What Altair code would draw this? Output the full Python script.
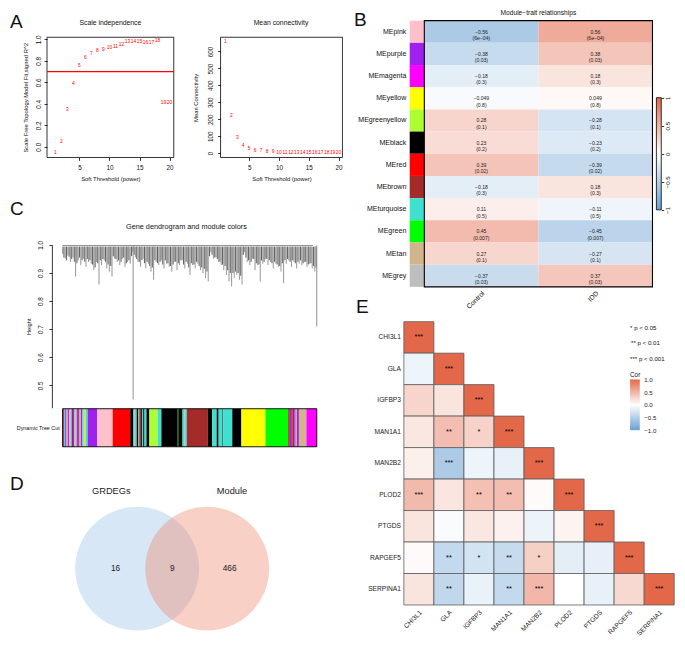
import math
import altair as alt
import pandas as pd

K = 0.975
W, H = 669, 632
FONT = "Liberation Sans"


def S(v):
    return round(v * K, 2)


# ---------------- data ----------------
powers = [1, 2, 3, 4, 5, 6, 7, 8, 9, 10, 11, 12, 13, 14, 15, 16, 17, 18, 19, 20]
sft_r2 = [-0.06, 0.04, 0.34, 0.58, 0.75, 0.83, 0.86, 0.89, 0.905, 0.92,
          0.93, 0.95, 0.975, 0.975, 0.978, 0.969, 0.969, 0.981, 0.41, 0.41]
mean_k = [658, 217, 89, 43, 22, 14, 9.5, 6.5, 4.5, 3.3,
          2.5, 2.0, 1.6, 1.3, 1.1, 0.9, 0.8, 0.7, 0.6, 0.5]
r2_cutoff = 0.70

modules = ["MEpink", "MEpurple", "MEmagenta", "MEyellow", "MEgreenyellow", "MEblack",
           "MEred", "MEbrown", "MEturquoise", "MEgreen", "MEtan", "MEgrey"]
module_colors = ["pink", "purple", "magenta", "yellow", "greenyellow", "black",
                 "red", "brown", "turquoise", "green", "tan", "grey"]
traits = ["Control", "IDD"]
cor_control = [-0.56, -0.38, -0.18, -0.049, 0.28, 0.23, 0.39, -0.18, 0.11, 0.45, 0.27, -0.37]
cor_idd = [0.56, 0.38, 0.18, 0.049, -0.28, -0.23, -0.39, 0.18, -0.11, -0.45, -0.27, 0.37]
p_values = ["6e−04", "0.03", "0.3", "0.8", "0.1", "0.2", "0.02", "0.3", "0.5", "0.007", "0.1", "0.03"]
trait_colorbar_ticks = [-1, -0.5, 0, 0.5, 1]

# dendrogram: deep leaves (order position, lowest merge height)
dendro_pos = [0, 8, 16, 24, 32, 40, 48, 56, 64, 72, 80, 88, 96, 104, 112, 120, 128, 136, 144, 152,
              160, 168, 176, 184, 192, 200, 208, 216, 224, 232, 240, 248, 256, 264, 272, 280, 288,
              296, 304, 312, 320, 328, 336, 344, 352, 360, 368, 376, 384, 392, 400, 408, 416, 424,
              432, 440, 448, 456, 464, 472, 480, 488, 496, 504, 512, 520, 528, 536, 544, 552, 560,
              568, 576, 584, 592, 600, 608, 616, 624, 632, 640, 648, 656, 664, 672, 680, 688, 696,
              704, 712, 720, 728, 736, 744, 752, 760, 768, 776]
dendro_low = [0.968, 0.951, 0.962, 0.939, 0.956, 0.887, 0.945, 0.928, 0.951, 0.922, 0.939, 0.933,
              0.910, 0.939, 0.859, 0.928, 0.945, 0.916, 0.905, 0.887, 0.951, 0.939, 0.928, 0.951,
              0.922, 0.939, 0.933, 0.974, 0.956, 0.939, 0.922, 0.951, 0.916, 0.933, 0.905, 0.876,
              0.939, 0.928, 0.945, 0.916, 0.933, 0.922, 0.905, 0.939, 0.910, 0.928, 0.945, 0.916,
              0.933, 0.893, 0.928, 0.916, 0.933, 0.910, 0.899, 0.882, 0.870, 0.974, 0.951, 0.956,
              0.939, 0.928, 0.910, 0.893, 0.870, 0.853, 0.882, 0.893, 0.876, 0.859, 0.974, 0.939,
              0.928, 0.951, 0.910, 0.928, 0.870, 0.933, 0.951, 0.928, 0.939, 0.916, 0.933, 0.922,
              0.905, 0.864, 0.933, 0.945, 0.922, 0.939, 0.916, 0.933, 0.928, 0.939, 0.922, 0.933,
              0.916, 0.905]
# dense upper mass of the dendrogram (leaves in between, lower edge of the dark band)
dense_pos = [4, 12, 20, 28, 36, 44, 52, 60, 68, 76, 84, 92, 100, 108, 116, 124, 132, 140, 148, 156,
             164, 172, 180, 188, 196, 204, 212, 220, 228, 236, 244, 252, 260, 268, 276, 284, 292,
             300, 308, 316, 324, 332, 340, 348, 356, 364, 372, 380, 388, 396, 404, 412, 420, 428,
             436, 444, 452, 460, 468, 476, 484, 492, 500, 508, 516, 524, 532, 540, 548, 556, 564,
             572, 580, 588, 596, 604, 612, 620, 628, 636, 644, 652, 660, 668, 676, 684, 692, 700,
             708, 716, 724, 732, 740, 748, 756, 764, 772, 780]
dense_low = [0.955, 0.945, 0.958, 0.95, 0.94, 0.935, 0.955, 0.945, 0.94, 0.95, 0.945, 0.93, 0.92,
             0.935, 0.945, 0.95, 0.94, 0.93, 0.925, 0.96,
             0.95, 0.945, 0.94, 0.955, 0.935, 0.945, 0.96,
             0.965, 0.95, 0.94, 0.945, 0.935, 0.94, 0.925, 0.92, 0.945, 0.935, 0.94, 0.93, 0.945,
             0.935, 0.925, 0.93, 0.94, 0.935, 0.945, 0.93, 0.94, 0.92, 0.935, 0.93, 0.94, 0.925,
             0.92, 0.915, 0.905, 0.96,
             0.965, 0.955, 0.95, 0.94, 0.93, 0.925, 0.91, 0.9, 0.9, 0.905, 0.9, 0.89, 0.965,
             0.955, 0.945, 0.94, 0.95, 0.935, 0.93, 0.945, 0.94, 0.95, 0.945, 0.935, 0.94, 0.93,
             0.925, 0.935, 0.945, 0.95, 0.94, 0.945, 0.935, 0.94, 0.945, 0.935, 0.94, 0.93, 0.935,
             0.925, 0.92]
dendro_top = 0.994
branch_pos = [217, 782]
branch_low = [0.45, 0.709]
n_order = 782

tree_cut_segments = [
    (0, 4, "brown"), (4, 8, "turquoise"), (8, 12, "purple"), (12, 16, "tan"), (16, 20, "magenta"),
    (20, 24, "grey"), (24, 28, "turquoise"), (28, 32, "brown"), (32, 36, "purple"), (36, 40, "tan"),
    (40, 44, "turquoise"), (44, 48, "magenta"), (48, 52, "brown"), (52, 56, "grey"), (56, 60, "purple"),
    (60, 64, "turquoise"), (64, 68, "tan"), (68, 72, "greenyellow"), (72, 77, "turquoise"),
    (77, 107, "purple"), (107, 154, "pink"), (154, 208, "red"), (208, 218, "black"), (218, 222, "grey"),
    (222, 228, "turquoise"), (228, 233, "black"), (233, 236, "turquoise"), (236, 240, "red"),
    (240, 244, "black"), (244, 248, "turquoise"), (248, 252, "black"), (252, 258, "turquoise"),
    (258, 267, "black"), (267, 292, "greenyellow"), (292, 304, "turquoise"), (304, 354, "black"),
    (354, 358, "darkgreen"), (358, 369, "black"), (369, 374, "turquoise"), (374, 377, "grey"),
    (377, 382, "turquoise"), (382, 447, "brown"), (447, 460, "black"), (460, 474, "turquoise"),
    (474, 480, "black"), (480, 492, "turquoise"), (492, 494, "black"), (494, 522, "turquoise"),
    (522, 550, "black"), (550, 624, "yellow"), (624, 694, "green"), (694, 699, "brown"),
    (699, 703, "purple"), (703, 708, "maroon"), (708, 713, "brown"), (713, 717, "purple"),
    (717, 721, "tan"), (721, 727, "purple"), (727, 750, "tan"), (750, 782, "magenta"),
]

venn_sets = ["GRDEGs", "Module"]
venn_counts = [16, 9, 466]  # GRDEGs only, both, Module only

genes = ["CHI3L1", "GLA", "IGFBP3", "MAN1A1", "MAN2B2", "PLOD2", "PTGDS", "RAPGEF5", "SERPINA1"]
cor_rows = [
    [1.0],
    [-0.12, 1.0],
    [0.28, 0.18, 1.0],
    [0.16, 0.43, 0.30, 1.0],
    [0.10, -0.55, -0.12, -0.15, 1.0],
    [0.46, 0.17, 0.42, 0.43, 0.03, 1.0],
    [0.18, -0.04, 0.16, 0.09, -0.13, 0.08, 1.0],
    [0.03, -0.40, -0.30, -0.38, 0.32, -0.18, -0.16, 1.0],
    [0.18, -0.42, -0.14, -0.40, 0.48, 0.0, -0.15, 0.25, 1.0],
]
star_rows = [
    ["***"],
    ["", "***"],
    ["", "", "***"],
    ["", "**", "*", "***"],
    ["", "***", "", "", "***"],
    ["***", "", "**", "**", "", "***"],
    ["", "", "", "", "", "", "***"],
    ["", "**", "*", "**", "*", "", "", "***"],
    ["", "**", "", "**", "***", "", "", "", "***"],
]
cor_legend_ticks = [-1.0, -0.5, 0.0, 0.5, 1.0]
sig_legend = ["* p < 0.05", "** p < 0.01", "*** p < 0.001"]

# ---------------- styles ----------------
R_COLORS = {"pink": "#FFC0CB", "purple": "#A020F0", "magenta": "#FF00FF", "yellow": "#FFFF00",
            "greenyellow": "#ADFF2F", "black": "#000000", "red": "#FF0000", "brown": "#A52A2A",
            "turquoise": "#40E0D0", "green": "#00FF00", "tan": "#D2B48C", "grey": "#BEBEBE",
            "darkgreen": "#006400", "maroon": "#B03060"}
COR_RANGE = ["#6AA0D2", "#FFFFFF", "#E3684A"]


def cor_scale():
    return alt.Scale(domain=[-1, 0, 1], range=COR_RANGE, interpolate="rgb")


def lin(domain, rng):
    return alt.Scale(domain=domain, range=rng, zero=False, nice=False)


def band(domain, rng):
    return alt.Scale(domain=domain, range=rng, paddingInner=0, paddingOuter=0)


BASE_AX = dict(grid=False, labelFont=FONT, titleFont=FONT, labelColor="#111111", titleColor="#111111",
               titleFontWeight="normal", labelFontWeight="normal", labelOverlap=False, labelFlush=False)
R_TICKS = dict(domain=False, ticks=True, tickSize=S(3), tickWidth=0.8, tickColor="black",
               labelFontSize=S(6.5), titleFontSize=S(6))


def axis(orient, at, **kw):
    if orient == "bottom":
        off = S(at) - H
    elif orient in ("top", "left"):
        off = -S(at)
    else:
        off = S(at) - W
    opts = dict(BASE_AX)
    opts.update(kw)
    return alt.Axis(orient=orient, offset=off, **opts)


def grad():
    return alt.LinearGradient(
        gradient="linear",
        stops=[alt.GradientStop(color=COR_RANGE[0], offset=0),
               alt.GradientStop(color=COR_RANGE[1], offset=0.5),
               alt.GradientStop(color=COR_RANGE[2], offset=1)],
        x1=0, x2=0, y1=1, y2=0)


def frame_df(xd, yd):
    return pd.DataFrame({"x0": [xd[0]], "x1": [xd[1]], "y0": [yd[0]], "y1": [yd[1]]})


def frame(xd, yd, xr, yr, width=0.8):
    return alt.Chart(frame_df(xd, yd)).mark_rect(fillOpacity=0, stroke="black", strokeWidth=width).encode(
        x=alt.X("x0:Q", scale=lin(xd, xr), axis=None), x2="x1",
        y=alt.Y("y0:Q", scale=lin(yd, yr), axis=None), y2="y1")


def note(text, x, y, size, align="center", baseline="middle", color="#111111"):
    return alt.Chart(pd.DataFrame({"t": [text]})).mark_text(
        font=FONT, fontSize=S(size), align=align, baseline=baseline, color=color
    ).encode(text="t:N", x=alt.value(S(x)), y=alt.value(S(y)))


layers = []

# ---------------- A ----------------
df_a = pd.DataFrame({"power": powers, "r2": sft_r2, "k": mean_k})
A1_XD, A1_XR = [-0.4, 20.7], [S(40), S(170)]
A2_XD, A2_XR = [0.2, 20.65], [S(218), S(343)]
A_YR = [S(153.3), S(30)]
A1_YD = [-0.10, 1.02]
A2_YD = [-26, 684]

a1_pts = alt.Chart(df_a).mark_text(color="red", font=FONT, fontSize=S(5)).encode(
    x=alt.X("power:Q", scale=lin(A1_XD, A1_XR),
            axis=axis("bottom", 153.3, values=[5, 10, 15, 20], title="Soft Threshold (power)",
                      labelPadding=S(4.5), titlePadding=S(4), **R_TICKS)),
    y=alt.Y("r2:Q", scale=lin(A1_YD, A_YR),
            axis=axis("left", 40, values=[0, 0.2, 0.4, 0.6, 0.8, 1.0], format=".1f", labelAngle=-90,
                      labelAlign="center", labelBaseline="bottom", labelPadding=S(3),
                      title="Scale Free Topology Model Fit,signed R^2", titlePadding=S(7), **R_TICKS)),
    text="power:Q")
a1_cut = alt.Chart(pd.DataFrame({"x0": [A1_XD[0]], "x1": [A1_XD[1]], "y": [r2_cutoff]})).mark_rule(
    color="red", strokeWidth=S(1.2)).encode(
    x=alt.X("x0:Q", scale=lin(A1_XD, A1_XR), axis=None), x2="x1",
    y=alt.Y("y:Q", scale=lin(A1_YD, A_YR), axis=None))
a2_pts = alt.Chart(df_a).mark_text(color="red", font=FONT, fontSize=S(5)).encode(
    x=alt.X("power:Q", scale=lin(A2_XD, A2_XR),
            axis=axis("bottom", 153.3, values=[5, 10, 15, 20], title="Soft Threshold (power)",
                      labelPadding=S(4.5), titlePadding=S(4), **R_TICKS)),
    y=alt.Y("k:Q", scale=lin(A2_YD, A_YR),
            axis=axis("left", 218, values=[0, 100, 200, 300, 400, 500, 600], format="d", labelAngle=-90,
                      labelAlign="center", labelBaseline="bottom", labelPadding=S(4.5),
                      title="Mean Connectivity", titlePadding=S(9), **R_TICKS)),
    text="power:Q")
layers += [frame(A1_XD, A1_YD, A1_XR, A_YR), a1_cut, a1_pts,
           frame(A2_XD, A2_YD, A2_XR, A_YR), a2_pts]

# ---------------- B ----------------
MOD = band(modules, [S(13), S(286)])
TR = band(traits, [S(427), S(661)])
df_bcol = pd.DataFrame({"module": modules, "hex": [R_COLORS[c] for c in module_colors],
                        "x0": 0, "x1": 1})
b_col = alt.Chart(df_bcol).mark_rect().encode(
    x=alt.X("x0:Q", scale=lin([0, 1], [S(412), S(427)]), axis=None), x2="x1",
    y=alt.Y("module:N", scale=MOD,
            axis=axis("left", 412, title=None, domain=False, ticks=False, labelFontSize=S(7.2),
                      labelPadding=S(4))),
    fill=alt.Fill("hex:N", scale=None))


def fmt(v):
    return f"{v:.2g}".replace("-", "−")


rows = []
for i, m in enumerate(modules):
    for t, vals in zip(traits, [cor_control, cor_idd]):
        rows.append({"module": m, "trait": t, "value": vals[i],
                     "label": f"{fmt(vals[i])}\n({p_values[i]})"})
df_bheat = pd.DataFrame(rows)
b_heat = alt.Chart(df_bheat).mark_rect().encode(
    x=alt.X("trait:N", scale=TR,
            axis=axis("bottom", 286, title=None, domain=False, ticks=False, labelAngle=-45,
                      labelAlign="right", labelBaseline="top", labelFontSize=S(7), labelPadding=S(3))),
    y=alt.Y("module:N", scale=MOD, axis=None),
    fill=alt.Fill("value:Q", scale=cor_scale(), legend=None))
b_txt = alt.Chart(df_bheat).mark_text(font=FONT, fontSize=S(5.2), lineBreak="\n", lineHeight=S(6.5),
                                      color="#222222").encode(
    x=alt.X("trait:N", scale=TR, axis=None),
    y=alt.Y("module:N", scale=MOD, axis=None),
    text="label:N")
b_cbar = alt.Chart(frame_df([0, 1], [-1, 1])).mark_rect(fill=grad(), stroke="black", strokeWidth=0.8).encode(
    x=alt.X("x0:Q", scale=lin([0, 1], [S(665), S(670)]), axis=None), x2="x1",
    y=alt.Y("y0:Q", scale=lin([-1, 1], [S(207), S(92)]),
            axis=axis("right", 670, values=trait_colorbar_ticks, format="~g", labelAngle=-90,
                      labelAlign="center", labelBaseline="top", domain=False, ticks=True,
                      tickSize=S(2.5), tickWidth=0.8, tickColor="black", labelFontSize=S(6.3),
                      labelPadding=S(1), title=None)),
    y2="y1")
layers += [b_col, b_heat, b_txt, frame([0, 1], [0, 1], [S(427), S(661)], [S(286), S(13)], 1.1), b_cbar]

# ---------------- C ----------------
C_XD, C_XR = [0, n_order], [S(56), S(316.7)]
C_YD, C_YR = [0.42, 1.0], [S(410), S(243)]
df_dendro = pd.DataFrame({"pos": dendro_pos, "low": dendro_low, "top": dendro_top})
df_dense = pd.DataFrame({"pos": dense_pos, "low": dense_low, "top": dendro_top})
c_axis_opts = dict(R_TICKS)
c_axis_opts.update(domain=True, domainColor="black", domainWidth=0.8)
c_leaves = alt.Chart(df_dendro).mark_rule(color="#7a7a7a", strokeWidth=S(0.9), opacity=0.9).encode(
    x=alt.X("pos:Q", scale=lin(C_XD, C_XR), axis=None),
    y=alt.Y("low:Q", scale=lin(C_YD, C_YR),
            axis=axis("left", 45, values=[0.5, 0.6, 0.7, 0.8, 0.9, 1.0], format=".1f", labelAngle=-90,
                      labelAlign="center", labelBaseline="bottom", labelPadding=S(5.5),
                      title="Height", titlePadding=S(6.5), **c_axis_opts)),
    y2="top")
c_dense = alt.Chart(df_dense).mark_rule(color="#4a4a4a", strokeWidth=S(1.1), opacity=0.85).encode(
    x=alt.X("pos:Q", scale=lin(C_XD, C_XR), axis=None),
    y=alt.Y("low:Q", scale=lin(C_YD, C_YR), axis=None), y2="top")
c_branch = alt.Chart(pd.DataFrame({"pos": branch_pos, "low": branch_low, "top": 0.998})).mark_rule(
    color="#8c8c8c", strokeWidth=S(1.0)).encode(
    x=alt.X("pos:Q", scale=lin(C_XD, C_XR), axis=None),
    y=alt.Y("low:Q", scale=lin(C_YD, C_YR), axis=None), y2="top")
c_merge = alt.Chart(pd.DataFrame({"x0": [0], "x1": [n_order - 12], "y": [0.998]})).mark_rule(
    color="#8c8c8c", strokeWidth=S(1.0)).encode(
    x=alt.X("x0:Q", scale=lin(C_XD, C_XR), axis=None), x2="x1",
    y=alt.Y("y:Q", scale=lin(C_YD, C_YR), axis=None))
df_cut = pd.DataFrame({"start": [s[0] for s in tree_cut_segments],
                       "end": [s[1] for s in tree_cut_segments],
                       "hex": [R_COLORS[s[2]] for s in tree_cut_segments],
                       "y0": 0, "y1": 1})
CUT_YR = [S(450), S(411)]
c_cut = alt.Chart(df_cut).mark_rect().encode(
    x=alt.X("start:Q", scale=lin(C_XD, C_XR), axis=None), x2="end",
    y=alt.Y("y0:Q", scale=lin([0, 1], CUT_YR), axis=None), y2="y1",
    fill=alt.Fill("hex:N", scale=None))
layers += [c_merge, c_leaves, c_dense, c_branch, c_cut, frame(C_XD, [0, 1], C_XR, CUT_YR, 0.9)]

# ---------------- D ----------------
D_XS = [S(132.5), S(204.3)]   # layout: circle centres at 0 and 1
D_YS = [S(575), S(503.2)]
venn_label_x = [-0.37, 1.355]
venn_count_x = [-0.31, 0.5, 1.32]
df_circ = pd.DataFrame({"set": venn_sets, "cx": [0, 1], "cy": [0, 0]})
d_circ = alt.Chart(df_circ).mark_circle(opacity=0.4, size=math.pi * S(71.7) ** 2).encode(
    x=alt.X("cx:Q", scale=lin([0, 1], D_XS), axis=None),
    y=alt.Y("cy:Q", scale=lin([0, 1], D_YS), axis=None),
    color=alt.Color("set:N", scale=alt.Scale(domain=venn_sets, range=["#9DC3E6", "#ED8970"]), legend=None))
d_lab = alt.Chart(pd.DataFrame({"set": venn_sets, "lx": venn_label_x, "ly": 1.114})).mark_text(
    font=FONT, fontSize=S(9.5), color="#1a1a1a").encode(
    x=alt.X("lx:Q", scale=lin([0, 1], D_XS), axis=None),
    y=alt.Y("ly:Q", scale=lin([0, 1], D_YS), axis=None), text="set:N")
d_cnt = alt.Chart(pd.DataFrame({"n": venn_counts, "lx": venn_count_x, "ly": 0})).mark_text(
    font=FONT, fontSize=S(8.5), color="#1a1a1a").encode(
    x=alt.X("lx:Q", scale=lin([0, 1], D_XS), axis=None),
    y=alt.Y("ly:Q", scale=lin([0, 1], D_YS), axis=None), text="n:Q")
layers += [d_circ, d_lab, d_cnt]

# ---------------- E ----------------
cells = []
for i, g in enumerate(genes):
    for j in range(i + 1):
        cells.append({"row": g, "col": genes[j], "cor": cor_rows[i][j], "star": star_rows[i][j]})
df_e = pd.DataFrame(cells)
EX = band(genes, [S(406), S(683.3)])
EY = band(genes, [S(321.7), S(612.3)])
e_cells = alt.Chart(df_e).mark_rect(stroke="#5a5a5a", strokeWidth=S(0.8)).encode(
    x=alt.X("col:N", scale=EX,
            axis=axis("bottom", 612.3, title=None, domain=False, ticks=False, labelAngle=-45,
                      labelAlign="right", labelBaseline="top", labelFontSize=S(6.8),
                      labelPadding=S(4), labelColor="#222222")),
    y=alt.Y("row:N", scale=EY,
            axis=axis("left", 406, title=None, domain=False, ticks=False, labelFontSize=S(6.8),
                      labelPadding=S(3.5), labelColor="#222222")),
    fill=alt.Fill("cor:Q", scale=cor_scale(), legend=None))
e_stars = alt.Chart(df_e).mark_text(font=FONT, fontSize=S(7.5), color="black").encode(
    x=alt.X("col:N", scale=EX, axis=None),
    y=alt.Y("row:N", scale=EY, axis=None), text="star:N")
e_cbar = alt.Chart(frame_df([0, 1], [-1, 1])).mark_rect(fill=grad()).encode(
    x=alt.X("x0:Q", scale=lin([0, 1], [S(638), S(648)]), axis=None), x2="x1",
    y=alt.Y("y0:Q", scale=lin([-1, 1], [S(433), S(381)]),
            axis=axis("right", 648, values=cor_legend_ticks, format=".1f", domain=False, ticks=False,
                      labelFontSize=S(6.3), labelPadding=S(4), labelColor="#222222", title=None)),
    y2="y1")
layers += [e_cells, e_stars, e_cbar]

# ---------------- annotations ----------------
layers += [
    note("Scale independence", 105, 15, 7),
    note("Mean connectivity", 280, 15, 7),
    note("Module−trait relationships", 544, 5, 6.8),
    note("Gene dendrogram and module colors", 183, 224.3, 7.5),
    note("Dynamic Tree Cut", 53, 430.5, 5.5, align="right"),
    note(sig_legend[0], 638, 328, 6.3, align="left"),
    note(sig_legend[1], 639, 344, 6.3, align="left"),
    note(sig_legend[2], 638, 360, 6.3, align="left"),
    note("Cor", 638, 376, 6.5, align="left"),
    note("A", 2, 20, 19.5, align="left", baseline="alphabetic"),
    note("B", 355, 18, 19.5, align="left", baseline="alphabetic"),
    note("C", 2, 212, 19.5, align="left", baseline="alphabetic"),
    note("D", 2, 494, 19.5, align="left", baseline="alphabetic"),
    note("E", 357, 313, 19.5, align="left", baseline="alphabetic"),
]

chart = alt.layer(*layers).resolve_scale(
    x="independent", y="independent", fill="independent", color="independent"
).properties(width=W, height=H, padding=0).configure_view(stroke=None).configure_text(font=FONT)

chart.save("out.html", embed_options={"renderer": "svg", "actions": False})
